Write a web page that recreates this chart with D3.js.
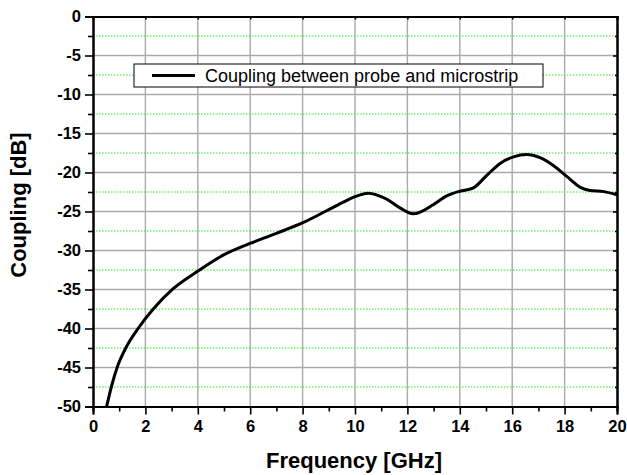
<!DOCTYPE html>
<html>
<head>
<meta charset="utf-8">
<script src="https://cdn.jsdelivr.net/npm/d3@7"></script>
<style>
body { margin: 0; background: #fff; }
text { font-family: "Liberation Sans", Arial, sans-serif; }
</style>
</head>
<body>
<div id="chart"></div>
<script>
var freq = [0.52, 0.7, 0.92, 1.25, 1.72, 2.3, 3.06, 4.02, 4.97, 5.99, 7.0, 8.03, 8.92, 9.5, 10.0,
	10.5, 11.2, 11.7, 12.22, 13.0, 13.5, 14.0, 14.5, 15.05, 15.55, 16.05, 16.55, 17.06, 17.57, 18.08, 18.6, 18.97, 19.5, 20.0];
var coupling = [-50, -47.5, -45, -42.5, -40, -37.5, -34.9, -32.6, -30.6, -29.1, -27.8, -26.4, -24.9, -23.9, -23.1,
	-22.65, -23.4, -24.5, -25.3, -24.1, -23.0, -22.4, -22.0, -20.3, -18.8, -18.0, -17.7, -18.1, -19.1, -20.5, -21.9, -22.3, -22.45, -22.85];
var xTicks = [0, 2, 4, 6, 8, 10, 12, 14, 16, 18, 20];
var yTicks = [0, -5, -10, -15, -20, -25, -30, -35, -40, -45, -50];
var yMinor = [-2.5, -7.5, -12.5, -17.5, -22.5, -27.5, -32.5, -37.5, -42.5, -47.5];
var xMinor = [1, 3, 5, 7, 9, 11, 13, 15, 17, 19];
var seriesName = "Coupling between probe and microstrip";

var W = 627, H = 475;
var pLeft = 93, pRight = 617, pTop = 16.5, pBottom = 406.5;

var svg = d3.select("#chart").append("svg")
	.attr("width", W)
	.attr("height", H);

var x = d3.scaleLinear().domain([0, 20]).range([pLeft, pRight]);
var y = d3.scaleLinear().domain([-50, 0]).range([pBottom, pTop]);

// grid
svg.append("g").selectAll("line")
	.data(xTicks.slice(1, -1))
	.enter().append("line")
	.attr("x1", d => x(d)).attr("x2", d => x(d))
	.attr("y1", pTop).attr("y2", pBottom)
	.attr("stroke", "#aaaaaa").attr("stroke-width", 1.4);
svg.append("g").selectAll("line")
	.data(yTicks.slice(1, -1))
	.enter().append("line")
	.attr("x1", pLeft).attr("x2", pRight)
	.attr("y1", d => y(d)).attr("y2", d => y(d))
	.attr("stroke", "#aaaaaa").attr("stroke-width", 1.4);
svg.append("g").selectAll("line")
	.data(yMinor)
	.enter().append("line")
	.attr("x1", pLeft).attr("x2", pRight)
	.attr("y1", d => y(d)).attr("y2", d => y(d))
	.attr("stroke", "#22ee22").attr("stroke-width", 1)
	.attr("stroke-dasharray", "1.5,1.5");

// axes
var fmt = d => String(d);
svg.append("g")
	.attr("transform", "translate(0," + pBottom + ")")
	.call(d3.axisBottom(x).tickValues(xTicks).tickSize(8).tickPadding(6).tickFormat(fmt));
svg.append("g")
	.attr("transform", "translate(" + pLeft + ",0)")
	.call(d3.axisLeft(y).tickValues(yTicks).tickSize(8).tickPadding(4).tickFormat(fmt));
svg.append("g")
	.attr("transform", "translate(0," + pTop + ")")
	.call(d3.axisBottom(x).tickValues(xTicks).tickSize(3).tickFormat(""));
svg.append("g")
	.attr("transform", "translate(" + pRight + ",0)")
	.call(d3.axisLeft(y).tickValues(yTicks).tickSize(4).tickFormat(""));
svg.append("g")
	.attr("transform", "translate(0," + pBottom + ")")
	.call(d3.axisBottom(x).tickValues(xMinor).tickSize(5).tickFormat(""));
svg.append("g")
	.attr("transform", "translate(" + pLeft + ",0)")
	.call(d3.axisLeft(y).tickValues(yMinor).tickSize(5).tickFormat(""));
svg.append("g")
	.attr("transform", "translate(" + pRight + ",0)")
	.call(d3.axisLeft(y).tickValues(yMinor).tickSize(2).tickFormat(""));

svg.selectAll(".domain").attr("stroke", "#000").attr("stroke-width", 2);
svg.selectAll(".tick line").attr("stroke", "#000").attr("stroke-width", 1.6);
svg.selectAll(".tick text")
	.attr("font-size", "16.5px")
	.attr("font-weight", "bold")
	.attr("fill", "#000");

// curve
var pts = freq.map((f, i) => [f, coupling[i]]);
var line = d3.line()
	.x(d => x(d[0]))
	.y(d => y(d[1]))
	.curve(d3.curveMonotoneX);
svg.append("path")
	.datum(pts)
	.attr("d", line)
	.attr("fill", "none")
	.attr("stroke", "#000")
	.attr("stroke-width", 3)
	.attr("stroke-linejoin", "round");

// legend
var leg = svg.append("g");
leg.append("rect")
	.attr("x", 134).attr("y", 64)
	.attr("width", 409).attr("height", 23)
	.attr("fill", "#fff").attr("stroke", "#000").attr("stroke-width", 1);
leg.append("line")
	.attr("x1", 152).attr("x2", 195)
	.attr("y1", 75.5).attr("y2", 75.5)
	.attr("stroke", "#000").attr("stroke-width", 3);
leg.append("text")
	.attr("x", 205).attr("y", 82)
	.attr("font-size", "18px")
	.text(seriesName);

// axis titles
svg.append("text")
	.attr("x", 354).attr("y", 468)
	.attr("text-anchor", "middle")
	.attr("font-size", "22px").attr("font-weight", "bold")
	.text("Frequency [GHz]");
svg.append("text")
	.attr("transform", "translate(26,205) rotate(-90)")
	.attr("text-anchor", "middle")
	.attr("font-size", "22px").attr("font-weight", "bold")
	.text("Coupling [dB]");
</script>
</body>
</html>
